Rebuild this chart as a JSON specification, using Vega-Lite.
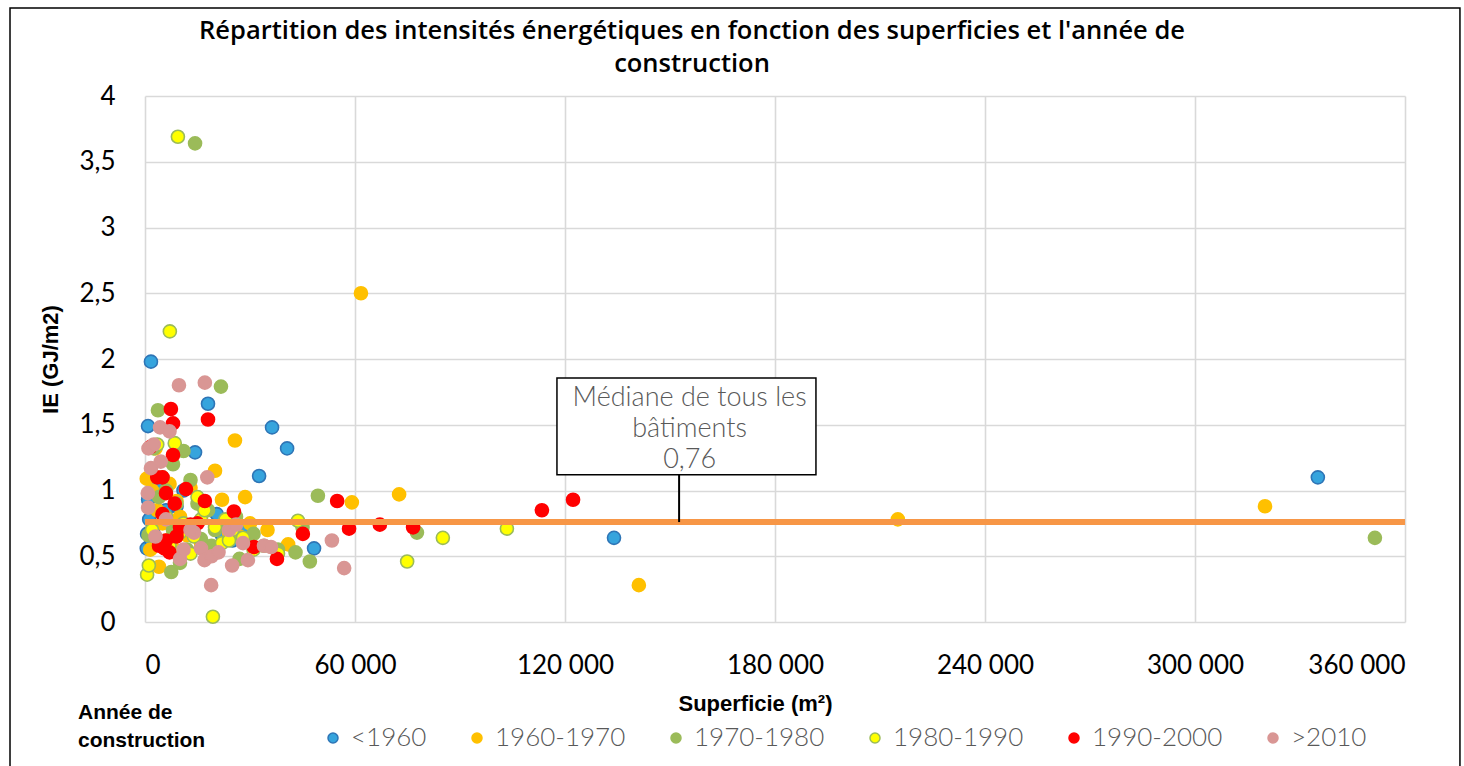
{
  "$schema": "https://vega.github.io/schema/vega-lite/v6.json",
  "width": 1260,
  "height": 526,
  "autosize": {"type": "none"},
  "padding": {"left": 145, "top": 96, "right": 59, "bottom": 144},
  "background": "white",
  "config": {
    "view": {"stroke": null},
    "axis": {"gridColor": "#D9D9D9", "gridWidth": 1.6, "domain": false, "ticks": false, "labelFont": "Lato", "labelFontSize": 26, "labelColor": "#000000", "titleFont": "Liberation Sans", "titleColor": "#000000"}
  },
  "title": {
    "text": ["Répartition des intensités énergétiques en fonction des superficies et l'année de", "construction"],
    "font": "Open Sans",
    "fontSize": 25.5,
    "fontWeight": 600,
    "color": "#000000",
    "anchor": "middle",
    "frame": "group",
    "dx": -83,
    "offset": -70,
    "lineHeight": 33
  },
  "datasets": {
    "pts": [
      {"s":"<1960","x":900,"y":0.93},{"s":"<1960","x":1200,"y":0.78},{"s":"<1960","x":600,"y":0.67},{"s":"<1960","x":500,"y":0.56},{"s":"<1960","x":1800,"y":0.62},{"s":"<1960","x":2500,"y":0.72},{"s":"<1960","x":860,"y":1.49},{"s":"<1960","x":1700,"y":1.98},{"s":"<1960","x":18000,"y":1.66},{"s":"<1960","x":36300,"y":1.48},{"s":"<1960","x":40600,"y":1.32},{"s":"<1960","x":32600,"y":1.11},{"s":"<1960","x":14300,"y":1.29},{"s":"<1960","x":48300,"y":0.56},{"s":"<1960","x":134000,"y":0.64},{"s":"<1960","x":335100,"y":1.10},{"s":"<1960","x":20500,"y":0.82},{"s":"<1960","x":25000,"y":0.62},{"s":"<1960","x":9000,"y":0.88},{"s":"<1960","x":6000,"y":0.85},{"s":"<1960","x":12000,"y":0.7},{"s":"<1960","x":4500,"y":0.6},{"s":"<1960","x":28000,"y":0.7},{"s":"<1960","x":22000,"y":0.66},{"s":"<1960","x":11000,"y":1.0},{"s":"<1960","x":3000,"y":1.05},
      {"s":"1960-1970","x":61700,"y":2.5},{"s":"1960-1970","x":25700,"y":1.38},{"s":"1960-1970","x":20000,"y":1.15},{"s":"1960-1970","x":72600,"y":0.97},{"s":"1960-1970","x":59100,"y":0.91},{"s":"1960-1970","x":28600,"y":0.95},{"s":"1960-1970","x":141100,"y":0.28},{"s":"1960-1970","x":215100,"y":0.78},{"s":"1960-1970","x":320000,"y":0.88},{"s":"1960-1970","x":40900,"y":0.59},{"s":"1960-1970","x":500,"y":1.09},{"s":"1960-1970","x":2000,"y":1.0},{"s":"1960-1970","x":3500,"y":0.85},{"s":"1960-1970","x":5000,"y":0.75},{"s":"1960-1970","x":4000,"y":0.42},{"s":"1960-1970","x":6000,"y":0.62},{"s":"1960-1970","x":8000,"y":0.56},{"s":"1960-1970","x":10000,"y":0.8},{"s":"1960-1970","x":12000,"y":0.66},{"s":"1960-1970","x":14000,"y":0.72},{"s":"1960-1970","x":16000,"y":0.6},{"s":"1960-1970","x":18000,"y":0.52},{"s":"1960-1970","x":22000,"y":0.93},{"s":"1960-1970","x":24000,"y":0.68},{"s":"1960-1970","x":27000,"y":0.65},{"s":"1960-1970","x":30000,"y":0.75},{"s":"1960-1970","x":35000,"y":0.7},{"s":"1960-1970","x":1500,"y":0.55},{"s":"1960-1970","x":7000,"y":1.05},{"s":"1960-1970","x":9000,"y":0.92},{"s":"1960-1970","x":13000,"y":1.02},{"s":"1960-1970","x":3000,"y":1.32},
      {"s":"1970-1980","x":14300,"y":3.64},{"s":"1970-1980","x":21700,"y":1.79},{"s":"1970-1980","x":3700,"y":1.61},{"s":"1970-1980","x":49400,"y":0.96},{"s":"1970-1980","x":351400,"y":0.64},{"s":"1970-1980","x":77700,"y":0.68},{"s":"1970-1980","x":47100,"y":0.46},{"s":"1970-1980","x":7500,"y":0.38},{"s":"1970-1980","x":2500,"y":1.32},{"s":"1970-1980","x":11000,"y":1.3},{"s":"1970-1980","x":8000,"y":1.2},{"s":"1970-1980","x":13000,"y":1.08},{"s":"1970-1980","x":6000,"y":1.0},{"s":"1970-1980","x":15000,"y":0.9},{"s":"1970-1980","x":18000,"y":0.85},{"s":"1970-1980","x":20000,"y":0.7},{"s":"1970-1980","x":23000,"y":0.75},{"s":"1970-1980","x":26000,"y":0.8},{"s":"1970-1980","x":29000,"y":0.62},{"s":"1970-1980","x":31000,"y":0.67},{"s":"1970-1980","x":34000,"y":0.58},{"s":"1970-1980","x":38000,"y":0.55},{"s":"1970-1980","x":43000,"y":0.53},{"s":"1970-1980","x":45000,"y":0.72},{"s":"1970-1980","x":10000,"y":0.45},{"s":"1970-1980","x":5000,"y":0.82},{"s":"1970-1980","x":16000,"y":0.63},{"s":"1970-1980","x":12000,"y":0.55},{"s":"1970-1980","x":8000,"y":0.7},{"s":"1970-1980","x":27000,"y":0.48},{"s":"1970-1980","x":4000,"y":0.95},{"s":"1970-1980","x":19000,"y":0.58},{"s":"1970-1980","x":1000,"y":0.66},
      {"s":"1980-1990","x":9400,"y":3.69},{"s":"1980-1990","x":7100,"y":2.21},{"s":"1980-1990","x":19400,"y":0.04},{"s":"1980-1990","x":43700,"y":0.77},{"s":"1980-1990","x":85100,"y":0.64},{"s":"1980-1990","x":103400,"y":0.71},{"s":"1980-1990","x":74900,"y":0.46},{"s":"1980-1990","x":600,"y":0.36},{"s":"1980-1990","x":1100,"y":0.43},{"s":"1980-1990","x":8500,"y":1.36},{"s":"1980-1990","x":3500,"y":1.35},{"s":"1980-1990","x":5000,"y":1.1},{"s":"1980-1990","x":9000,"y":0.9},{"s":"1980-1990","x":11000,"y":0.75},{"s":"1980-1990","x":14000,"y":0.65},{"s":"1980-1990","x":16000,"y":0.78},{"s":"1980-1990","x":18000,"y":0.5},{"s":"1980-1990","x":20000,"y":0.72},{"s":"1980-1990","x":22000,"y":0.6},{"s":"1980-1990","x":25000,"y":0.7},{"s":"1980-1990","x":28000,"y":0.64},{"s":"1980-1990","x":31000,"y":0.55},{"s":"1980-1990","x":38000,"y":0.52},{"s":"1980-1990","x":13000,"y":0.52},{"s":"1980-1990","x":6000,"y":0.8},{"s":"1980-1990","x":2000,"y":0.7},{"s":"1980-1990","x":4000,"y":0.62},{"s":"1980-1990","x":7000,"y":0.58},{"s":"1980-1990","x":10000,"y":0.68},{"s":"1980-1990","x":17000,"y":0.85},{"s":"1980-1990","x":24000,"y":0.62},{"s":"1980-1990","x":23000,"y":0.78},{"s":"1980-1990","x":15000,"y":0.95},
      {"s":"1990-2000","x":7400,"y":1.62},{"s":"1990-2000","x":8000,"y":1.51},{"s":"1990-2000","x":18000,"y":1.54},{"s":"1990-2000","x":8000,"y":1.27},{"s":"1990-2000","x":122300,"y":0.93},{"s":"1990-2000","x":113400,"y":0.85},{"s":"1990-2000","x":54900,"y":0.92},{"s":"1990-2000","x":58300,"y":0.71},{"s":"1990-2000","x":67100,"y":0.74},{"s":"1990-2000","x":76600,"y":0.72},{"s":"1990-2000","x":45100,"y":0.67},{"s":"1990-2000","x":37700,"y":0.48},{"s":"1990-2000","x":31100,"y":0.57},{"s":"1990-2000","x":25400,"y":0.84},{"s":"1990-2000","x":17100,"y":0.92},{"s":"1990-2000","x":11700,"y":1.01},{"s":"1990-2000","x":1500,"y":1.33},{"s":"1990-2000","x":3500,"y":1.1},{"s":"1990-2000","x":5000,"y":1.1},{"s":"1990-2000","x":6000,"y":0.98},{"s":"1990-2000","x":5000,"y":0.82},{"s":"1990-2000","x":8500,"y":0.9},{"s":"1990-2000","x":10000,"y":0.72},{"s":"1990-2000","x":13000,"y":0.74},{"s":"1990-2000","x":15000,"y":0.75},{"s":"1990-2000","x":6000,"y":0.62},{"s":"1990-2000","x":5500,"y":0.56},{"s":"1990-2000","x":7000,"y":0.53},{"s":"1990-2000","x":9000,"y":0.65},{"s":"1990-2000","x":4000,"y":0.58},
      {"s":">2010","x":9700,"y":1.8},{"s":">2010","x":17100,"y":1.82},{"s":">2010","x":4300,"y":1.48},{"s":">2010","x":1000,"y":1.32},{"s":">2010","x":17800,"y":1.10},{"s":">2010","x":18900,"y":0.28},{"s":">2010","x":56900,"y":0.41},{"s":">2010","x":53400,"y":0.62},{"s":">2010","x":29400,"y":0.47},{"s":">2010","x":24900,"y":0.43},{"s":">2010","x":1700,"y":1.17},{"s":">2010","x":4500,"y":1.22},{"s":">2010","x":800,"y":0.98},{"s":">2010","x":900,"y":0.87},{"s":">2010","x":2500,"y":1.35},{"s":">2010","x":7000,"y":1.45},{"s":">2010","x":10000,"y":0.48},{"s":">2010","x":11000,"y":0.55},{"s":">2010","x":14000,"y":0.68},{"s":">2010","x":16000,"y":0.56},{"s":">2010","x":17000,"y":0.47},{"s":">2010","x":19000,"y":0.5},{"s":">2010","x":21000,"y":0.53},{"s":">2010","x":24000,"y":0.7},{"s":">2010","x":26000,"y":0.74},{"s":">2010","x":28000,"y":0.6},{"s":">2010","x":34000,"y":0.58},{"s":">2010","x":36000,"y":0.57},{"s":">2010","x":13000,"y":0.7},{"s":">2010","x":3000,"y":0.65},{"s":">2010","x":6000,"y":0.78}
    ]
  },
  "layer": [
    {
      "data": {"name": "pts"},
      "mark": {"type": "point", "shape": "circle", "filled": true, "size": 170, "strokeWidth": 1.6, "opacity": 1},
      "encoding": {
        "x": {
          "field": "x", "type": "quantitative",
          "scale": {"domain": [0, 360000], "nice": false, "zero": true},
          "axis": {"values": [0, 60000, 120000, 180000, 240000, 300000, 360000], "labelExpr": "datum.value == 0 ? '0' : format(datum.value / 1000, 'd') + ' 000'", "labelPadding": 30, "title": "Superficie (m²)", "titleFontSize": 22, "titleFontWeight": "bold", "titlePadding": 15, "titleX": 610}
        },
        "y": {
          "field": "y", "type": "quantitative",
          "scale": {"domain": [0, 4], "nice": false},
          "axis": {"values": [0, 0.5, 1, 1.5, 2, 2.5, 3, 3.5, 4], "labelExpr": "replace(format(datum.value, '.1~f'), '.', ',')", "labelPadding": 30, "title": "IE (GJ/m2)", "titleFontSize": 22, "titleFontWeight": "bold", "titlePadding": 16}
        },
        "fill": {
          "field": "s", "type": "nominal",
          "scale": {"domain": ["<1960", "1960-1970", "1970-1980", "1980-1990", "1990-2000", ">2010"], "range": ["#36A4DD", "#FFC000", "#9BBB59", "#FFFF00", "#FF0000", "#D99694"]},
          "legend": {
            "orient": "none", "legendX": -67, "legendY": 629, "direction": "horizontal", "columns": 6, "gridAlign": "none", "columnPadding": 37,
            "title": ["Année de", "construction"], "titleOrient": "left", "titleAnchor": "end", "titleFont": "Liberation Sans", "titleFontSize": 21, "titleFontWeight": "bold", "titleColor": "#000000", "titlePadding": 114, "titleLineHeight": 28,
            "labelFont": "Lato", "labelFontSize": 26, "labelColor": "#595959", "labelFontWeight": 300, "symbolSize": 100, "symbolType": "circle", "labelOffset": 5
          }
        },
        "stroke": {
          "field": "s", "type": "nominal",
          "scale": {"domain": ["<1960", "1960-1970", "1970-1980", "1980-1990", "1990-2000", ">2010"], "range": ["#2E75B6", "#FFC000", "#9BBB59", "#9BBB59", "#FF0000", "#D99694"]},
          "legend": {
            "orient": "none", "legendX": -67, "legendY": 629, "direction": "horizontal", "columns": 6, "gridAlign": "none", "columnPadding": 37,
            "title": ["Année de", "construction"], "titleOrient": "left", "titleAnchor": "end", "titleFont": "Liberation Sans", "titleFontSize": 21, "titleFontWeight": "bold", "titleColor": "#000000", "titlePadding": 114, "titleLineHeight": 28,
            "labelFont": "Lato", "labelFontSize": 26, "labelColor": "#595959", "labelFontWeight": 300, "symbolSize": 100, "symbolType": "circle", "labelOffset": 5
          }
        }
      }
    },
    {
      "data": {"values": [{"median": 0.76}]},
      "mark": {"type": "rule", "color": "#F79646", "strokeWidth": 6},
      "encoding": {"y": {"field": "median", "type": "quantitative"}}
    },
    {
      "data": {"values": [{"lx": 152600, "ly1": 1.125, "ly2": 0.76}]},
      "mark": {"type": "rule", "color": "#000000", "strokeWidth": 2},
      "encoding": {
        "x": {"field": "lx", "type": "quantitative"},
        "y": {"field": "ly1", "type": "quantitative"},
        "y2": {"field": "ly2"}
      }
    },
    {
      "data": {"values": [{"bx1": 117700, "bx2": 191700, "by1": 1.855, "by2": 1.12}]},
      "mark": {"type": "rect", "fill": "#FFFFFF", "stroke": "#000000", "strokeWidth": 1.5},
      "encoding": {
        "x": {"field": "bx1", "type": "quantitative"},
        "x2": {"field": "bx2"},
        "y": {"field": "by1", "type": "quantitative"},
        "y2": {"field": "by2"}
      }
    },
    {
      "data": {"values": [{"tx": 155600, "ty": 1.703, "label": ["Médiane de tous les", "bâtiments", "0,76"]}]},
      "mark": {"type": "text", "font": "Lato", "fontSize": 27, "fontWeight": 300, "color": "#595959", "lineHeight": 31, "align": "center", "baseline": "middle"},
      "encoding": {
        "x": {"field": "tx", "type": "quantitative"},
        "y": {"field": "ty", "type": "quantitative"},
        "text": {"field": "label"}
      }
    },
    {
      "data": {"values": [{"x1": -38570, "x2": 375700, "y1": 4.669, "y2": -1.2}]},
      "mark": {"type": "rect", "fill": null, "stroke": "#000000", "strokeWidth": 1.5, "clip": false},
      "encoding": {
        "x": {"field": "x1", "type": "quantitative"},
        "x2": {"field": "x2"},
        "y": {"field": "y1", "type": "quantitative"},
        "y2": {"field": "y2"}
      }
    }
  ]
}
